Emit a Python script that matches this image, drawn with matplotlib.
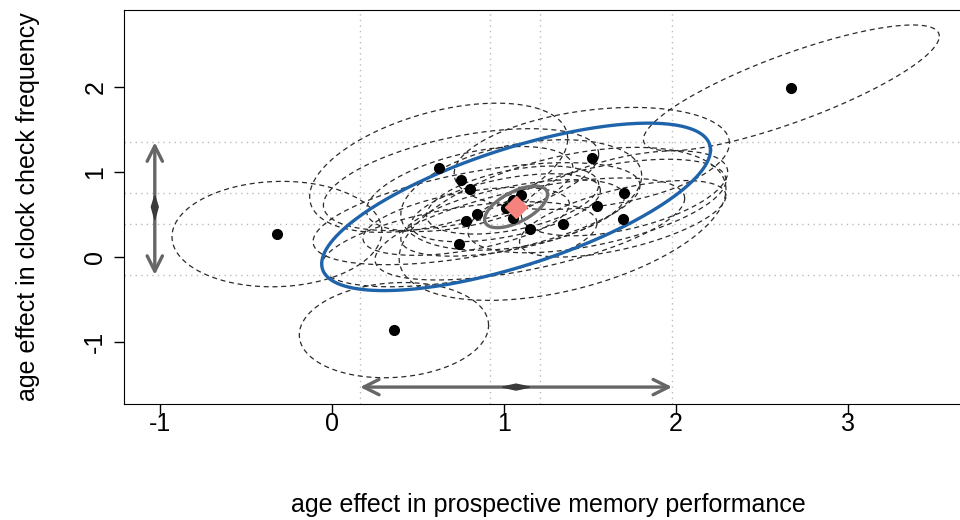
import numpy as np
import matplotlib
matplotlib.use('Agg')
import matplotlib.pyplot as plt

plt.rcParams['font.family'] = ['Liberation Sans', 'DejaVu Sans']
plt.rcParams['axes.unicode_minus'] = False

# study estimates (x = prospective memory, y = clock checking)
est_x = [-0.32, 0.36, 2.67, 0.62, 0.75, 0.80, 0.84, 0.78, 0.74,
         1.51, 1.70, 1.54, 1.69, 1.34, 1.15, 1.10, 1.01, 1.05, 1.05]
est_y = [0.27, -0.86, 1.99, 1.05, 0.91, 0.80, 0.51, 0.42, 0.15,
         1.16, 0.75, 0.60, 0.45, 0.39, 0.33, 0.73, 0.58, 0.46, 0.67]
# per-study confidence ellipse: half widths and correlation
sd_x = [0.61, 0.55, 0.86, 0.75, 0.80, 0.60, 0.95, 0.60, 0.80,
        0.80, 0.60, 0.75, 0.60, 0.95, 0.90, 0.70, 0.55, 0.65, 0.50]
sd_y = [0.62, 0.56, 0.74, 0.76, 0.60, 0.50, 0.60, 0.40, 0.50,
        0.60, 0.50, 0.55, 0.45, 0.90, 0.60, 0.65, 0.40, 0.45, 0.40]
rho = [0.05, 0.10, 0.82, 0.45, 0.50, 0.50, 0.55, 0.50, 0.50,
       0.30, 0.50, 0.55, 0.60, 0.45, 0.60, 0.35, 0.50, 0.55, 0.45]

# pooled estimate
pooled = (1.07, 0.59)
conf_ell = (0.183, 0.245, 0.60)     # sd_x, sd_y, rho of the mean
pred_ell = (1.13, 0.985, 0.68)      # prediction ellipse
pi_x = (0.163, 1.977)
ci_x = (0.919, 1.21)
pi_y = (-0.21, 1.35)
ci_y = (0.39, 0.75)
diamond_x = (0.99, 1.15)
diamond_y = (0.44, 0.72)


def ellipse(cx, cy, sx, sy, r, n=300):
    t = np.linspace(0, 2 * np.pi, n)
    x = cx + sx * np.cos(t)
    y = cy + sy * (r * np.cos(t) + np.sqrt(1 - r ** 2) * np.sin(t))
    return x, y


fig = plt.figure(figsize=(9.6, 5.2), dpi=100)
ax = fig.add_axes([124 / 960, 1 - 404 / 520, 848 / 960, 394 / 520])
ax.set_xlim(-1.209, 3.72)
ax.set_ylim(-1.729, 2.906)

grid_kw = dict(color='#BBBBBB', linestyle=(0, (1, 3)), lw=1, zorder=0)
for v in list(pi_x) + list(ci_x):
    ax.axvline(v, **grid_kw)
for v in list(pi_y) + list(ci_y):
    ax.axhline(v, **grid_kw)

for i in range(len(est_x)):
    ex, ey = ellipse(est_x[i], est_y[i], sd_x[i], sd_y[i], rho[i])
    ax.plot(ex, ey, color='#2A2A2A', lw=0.9, linestyle=(0, (4, 3)), zorder=2)

ex, ey = ellipse(pooled[0], pooled[1], *pred_ell)
ax.plot(ex, ey, color='#1F64AA', lw=2.4, zorder=3)
ex, ey = ellipse(pooled[0], pooled[1], *conf_ell)
ax.plot(ex, ey, color='#707070', lw=2.4, zorder=3)

ax.plot(est_x, est_y, 'o', color='black', markersize=7, zorder=4)
ax.plot(pooled[0], pooled[1], 'D', color='#F4837D', markersize=11, zorder=5)

# interval arrows
arrow_kw = dict(arrowstyle='<->,head_length=1.1,head_width=0.55',
                color='#666666', lw=2.4, shrinkA=0, shrinkB=0)
ax.annotate('', xy=(-1.03, pi_y[0]), xytext=(-1.03, pi_y[1]),
            arrowprops=arrow_kw, zorder=3)
ax.annotate('', xy=(pi_x[0], -1.53), xytext=(pi_x[1], -1.53),
            arrowprops=arrow_kw, zorder=3)
ax.fill([-1.05, -1.03, -1.01, -1.03], [pooled[1], diamond_y[1], pooled[1], diamond_y[0]],
        color='#3A3A3A', zorder=4)
ax.fill([diamond_x[0], pooled[0], diamond_x[1], pooled[0]], [-1.53, -1.495, -1.53, -1.565],
        color='#3A3A3A', zorder=4)

ax.set_xticks([-1, 0, 1, 2, 3])
ax.set_yticks([-1, 0, 1, 2])
ax.tick_params(labelsize=18, length=7, width=1)
ax.tick_params(axis='x', pad=-1)
ax.tick_params(axis='y', pad=5)
for lab in ax.get_yticklabels():
    lab.set_rotation(90)
    lab.set_va('center')
ax.spines['right'].set_visible(False)
ax.set_xlabel('age effect in prospective memory performance', fontsize=18, labelpad=41)
ax.set_ylabel('age effect in clock check frequency', fontsize=18, labelpad=31)

fig.savefig('out.png', dpi=100)
